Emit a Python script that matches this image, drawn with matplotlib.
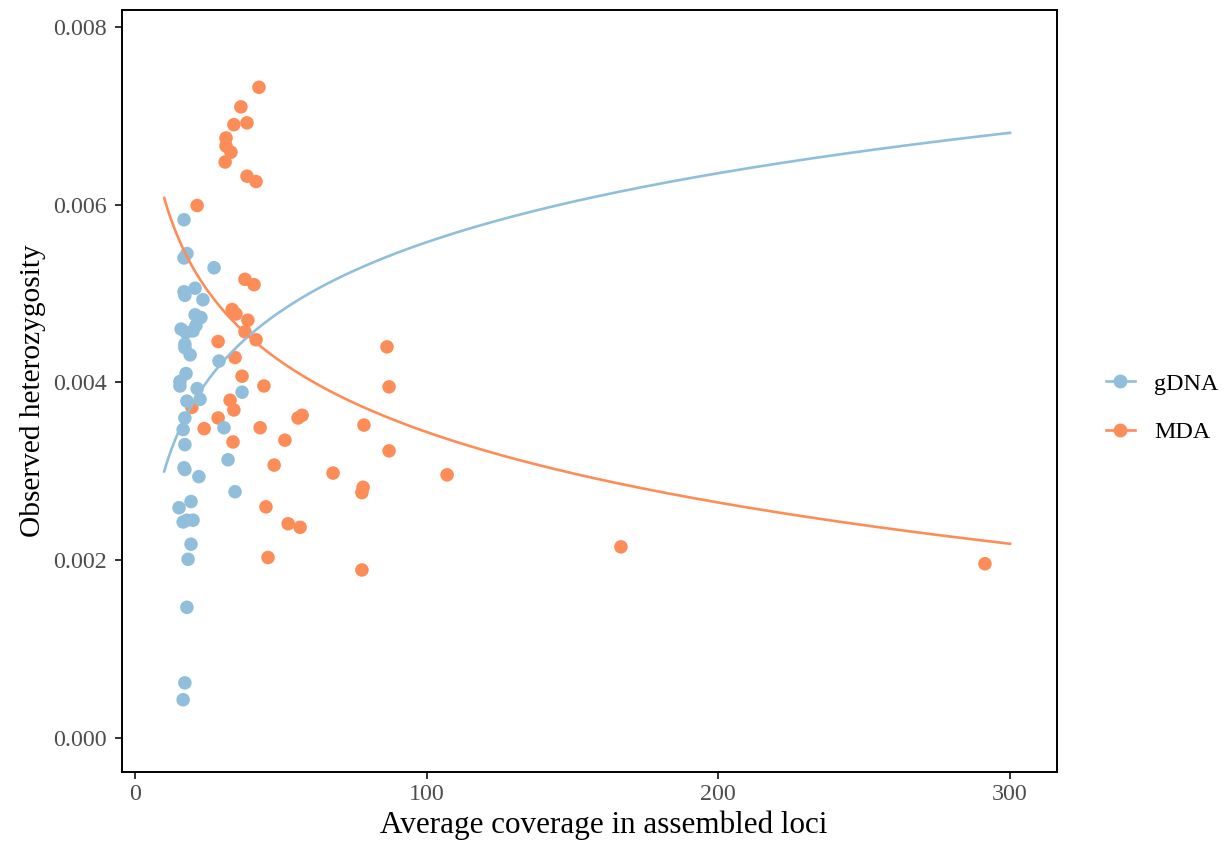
import numpy as np
import matplotlib
matplotlib.use("Agg")
import matplotlib.pyplot as plt
from matplotlib.lines import Line2D

# ---- data ----
gdna_x = [16.8, 17.8, 16.8, 27.1, 20.6, 16.8, 17.1, 23.3, 20.6, 22.6, 15.8, 17.5,
          19.9, 20.9, 17.1, 17.1, 18.9, 28.8, 17.5, 15.4, 15.4, 21.3, 36.7, 17.8,
          22.3, 17.1, 16.5, 30.5, 17.1, 31.9, 16.8, 17.1, 21.9, 34.3, 19.2, 15.1,
          16.5, 17.8, 19.9, 19.2, 18.2, 17.8, 17.1, 16.5]
gdna_y = [0.00583, 0.00545, 0.00540, 0.00529, 0.00506, 0.00502, 0.00498, 0.00493,
          0.00476, 0.00473, 0.00460, 0.00456, 0.00458, 0.00464, 0.00443, 0.00439,
          0.00431, 0.00424, 0.00410, 0.00401, 0.00396, 0.00393, 0.00389, 0.00379,
          0.00381, 0.00360, 0.00347, 0.00349, 0.00330, 0.00313, 0.00304, 0.00302,
          0.00294, 0.00277, 0.00266, 0.00259, 0.00243, 0.00245, 0.00245, 0.00218,
          0.00201, 0.00147, 0.00062, 0.00043]

mda_x = [42.5, 36.3, 33.9, 38.4, 31.2, 31.2, 32.9, 30.9, 38.4, 41.5, 21.3, 37.7,
         40.8, 33.3, 34.6, 38.7, 37.7, 41.5, 28.5, 86.4, 34.3, 44.2, 87.1, 36.7,
         19.5, 32.6, 33.9, 28.5, 55.9, 57.3, 78.5, 23.7, 42.9, 33.6, 51.4, 87.1,
         47.7, 67.9, 107.0, 78.2, 77.8, 44.9, 52.5, 56.6, 45.6, 77.8, 166.6, 291.4]
mda_y = [0.00732, 0.00710, 0.00690, 0.00692, 0.00675, 0.00666, 0.00659, 0.00648,
         0.00632, 0.00626, 0.00599, 0.00516, 0.00510, 0.00482, 0.00477, 0.00470,
         0.00457, 0.00448, 0.00446, 0.00440, 0.00428, 0.00396, 0.00395, 0.00407,
         0.00372, 0.00380, 0.00369, 0.00360, 0.00360, 0.00363, 0.00352, 0.00348,
         0.00349, 0.00333, 0.00335, 0.00323, 0.00307, 0.00298, 0.00296, 0.00282,
         0.00276, 0.00260, 0.00241, 0.00237, 0.00203, 0.00189, 0.00215, 0.00196]

# fitted log curves y = a + b*ln(x), drawn for x in [10, 300]
gdna_fit = (0.00042, 0.00112)
mda_fit = (0.00871, -0.001144)
fit_range = (10, 300)

x_ticks = [0, 100, 200, 300]
y_ticks = [0.000, 0.002, 0.004, 0.006, 0.008]
y_tick_labels = ["0.000", "0.002", "0.004", "0.006", "0.008"]

blue = "#91BFDB"
orange = "#FC8D59"

plt.rcParams["font.family"] = ["Liberation Serif", "DejaVu Serif"]

fig = plt.figure(figsize=(12.23, 8.42), dpi=100)
ax = fig.add_axes([122 / 1223, 1 - 772 / 842, (1057 - 122) / 1223, (772 - 10) / 842])

ax.scatter(mda_x, mda_y, s=95, color=orange, edgecolors="none", zorder=2)
ax.scatter(gdna_x, gdna_y, s=95, color=blue, edgecolors="none", zorder=2)

xs = np.linspace(fit_range[0], fit_range[1], 400)
ax.plot(xs, gdna_fit[0] + gdna_fit[1] * np.log(xs), color=blue, lw=1.9, zorder=3)
ax.plot(xs, mda_fit[0] + mda_fit[1] * np.log(xs), color=orange, lw=1.9, zorder=3)

ax.set_xlim(-4.46, 316.1)
ax.set_ylim(-0.000383, 0.00819)
ax.set_xticks(x_ticks)
ax.set_xticklabels([str(t) for t in x_ticks])
ax.set_yticks(y_ticks)
ax.set_yticklabels(y_tick_labels)

for sp in ax.spines.values():
    sp.set_linewidth(1.4)
    sp.set_color("black")
ax.tick_params(axis="both", direction="out", length=5, width=1.4, color="#333333",
               labelcolor="#4D4D4D", labelsize=17.3)
ax.tick_params(axis="y", pad=6)
ax.tick_params(axis="x", pad=4)

ax.set_xlabel("Average coverage in assembled loci", fontsize=22.4, color="black")
ax.xaxis.set_label_coords((604 - 122) / 935, (772 - 810) / 762)
ax.set_ylabel("Observed heterozygosity", fontsize=21.2, color="black", labelpad=5)

handles = [Line2D([0], [0], color=blue, lw=1.9, marker="o", markersize=10, markeredgewidth=0),
           Line2D([0], [0], color=orange, lw=1.9, marker="o", markersize=10, markeredgewidth=0)]
fig.legend(handles, ["gDNA", "MDA"], loc="center left", bbox_to_anchor=(1089 / 1223, 1 - 408 / 842),
           frameon=False, fontsize=17.3, handlelength=1.2, labelspacing=1.1, handletextpad=0.8,
           borderpad=0.2)

fig.savefig("out.png", dpi=100)
